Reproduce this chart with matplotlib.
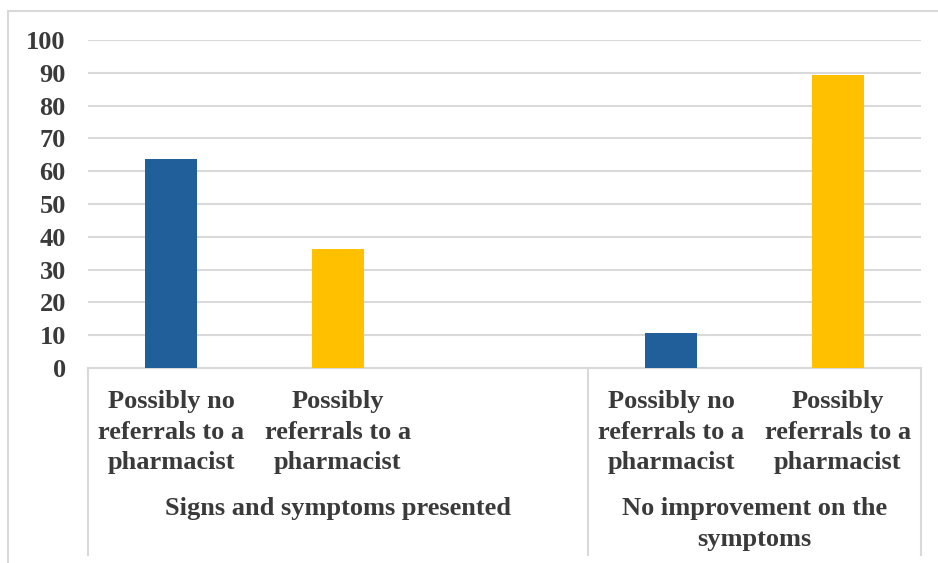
import matplotlib

matplotlib.use("Agg")
import matplotlib.pyplot as plt
import matplotlib.transforms as mtransforms
from matplotlib.patches import Rectangle

# Datos (porcentajes)
categorias = [
    "Possibly no\nreferrals to a\npharmacist",
    "Possibly\nreferrals to a\npharmacist",
    "",
    "Possibly no\nreferrals to a\npharmacist",
    "Possibly\nreferrals to a\npharmacist",
]
grupos = ["Signs and symptoms presented", "No improvement on the\nsymptoms"]
valores_azul = [63.6, None, None, 10.8, None]
valores_amarillo = [None, 36.4, None, None, 89.2]
y_ticks = list(range(0, 101, 10))

AZUL = "#215F9A"
AMARILLO = "#FFC000"
GRIS = "#D9D9D9"
TEXTO = "#3A3A3A"

plt.rcParams["font.family"] = ["Liberation Serif", "DejaVu Serif"]
plt.rcParams["font.weight"] = "bold"

W, H = 938, 563
fig = plt.figure(figsize=(W / 100, H / 100), dpi=100)

# marco exterior (recortado por la derecha y abajo)
fig.patches.append(
    Rectangle((8 / W, -0.1), 1.2, 1 - 11 / H + 0.1, transform=fig.transFigure,
              fill=False, edgecolor=GRIS, linewidth=1.5)
)

izq, der, abajo, arriba = 88, 921, 368, 40
ax = fig.add_axes([izq / W, 1 - abajo / H, (der - izq) / W, (abajo - arriba) / H])

x = list(range(len(categorias)))
for i, v in enumerate(valores_azul):
    if v is not None:
        ax.bar(x[i], v, width=0.31, color=AZUL, zorder=3)
for i, v in enumerate(valores_amarillo):
    if v is not None:
        ax.bar(x[i], v, width=0.31, color=AMARILLO, zorder=3)

ax.set_xlim(-0.5, len(categorias) - 0.5)
ax.set_ylim(0, 100)
ax.set_yticks(y_ticks)
ax.yaxis.grid(True, color=GRIS, linewidth=1.5, zorder=0)
ax.set_axisbelow(True)
for s in ["top", "right", "left"]:
    ax.spines[s].set_visible(False)
ax.spines["bottom"].set_color(GRIS)
ax.spines["bottom"].set_linewidth(1.5)
ax.tick_params(axis="both", length=0, labelsize=19, labelcolor=TEXTO)
ax.tick_params(axis="y", pad=16)
ax.tick_params(axis="x", pad=16)
ax.set_xticks(x)
ax.set_xticklabels(categorias, linespacing=1.42)
for t in ax.get_yticklabels():
    t.set_fontweight("bold")
for t in ax.get_xticklabels():
    t.set_fontweight("bold")

# separadores verticales del eje de categorias
trans = mtransforms.blended_transform_factory(ax.transData, ax.transAxes)
fondo = -(555 - 368) / (abajo - arriba)
for xs in [-0.5, 2.5, 4.5]:
    ax.plot([xs, xs], [0, fondo], transform=trans, color=GRIS, linewidth=1.5,
            clip_on=False)

# etiquetas de grupo
ax.text(1.0, -(508 - 368) / (abajo - arriba), grupos[0], transform=trans,
        ha="center", va="center", fontsize=19, fontweight="bold", color=TEXTO)
ax.text(3.5, -(497 - 368) / (abajo - arriba), grupos[1], transform=trans,
        ha="center", va="top", fontsize=19, fontweight="bold", color=TEXTO,
        linespacing=1.42)

fig.savefig("out.png", dpi=100)
